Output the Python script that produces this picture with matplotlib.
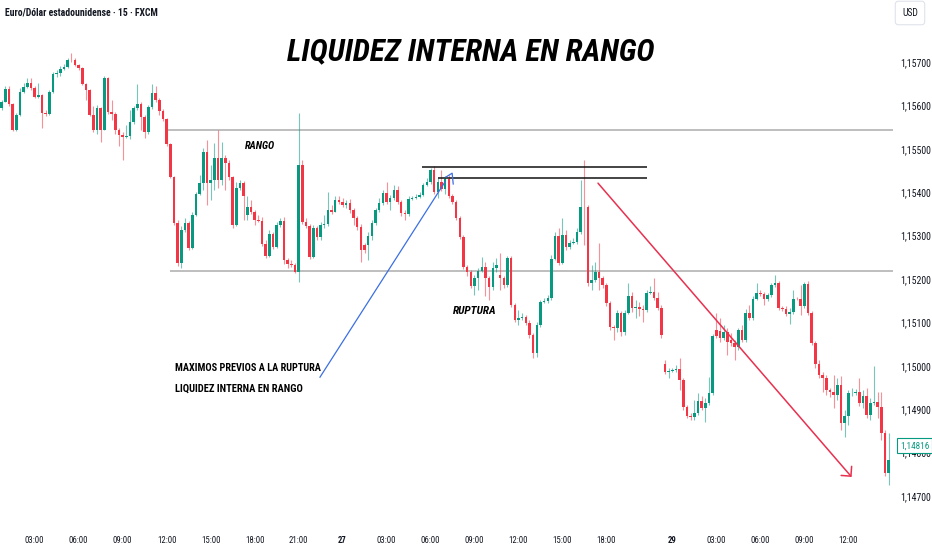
import numpy as np
import matplotlib
matplotlib.use('Agg')
import matplotlib.pyplot as plt
from matplotlib import font_manager as fm

# ---------------- data (EUR/USD, 15-min candles, prices in 1e-5 units) ----------------
opens = [115594,115608,115638,115603,115543,115578,115631,115643,115652,115640,
         115620,115624,115583,115580,115631,115673,115675,115684,115689,115705,
         115704,115693,115686,115649,115636,115578,115543,115594,115543,115663,
         115585,115580,115543,115532,115527,115529,115562,115594,115603,115573,
         115539,115596,115629,115613,115587,115569,115511,115435,115329,115237,
         115313,115329,115272,115348,115396,115421,115493,115421,115428,115479,
         115428,115479,115467,115435,115325,115410,115421,115348,115366,115355,
         115336,115334,115281,115253,115304,115274,115325,115334,115244,115235,
         115232,115216,115463,115332,115322,115251,115318,115297,115325,115327,
         115359,115355,115382,115378,115371,115375,115359,115341,115320,115279,
         115279,115299,115329,115359,115375,115398,115378,115387,115405,115378,
         115352,115350,115385,115387,115389,115394,115417,115424,115451,115401,
         115424,115408,115431,115391,115378,115341,115297,115228,115216,115184,
         115202,115219,115228,115202,115182,115226,115209,115202,115186,115249,
         115140,115106,115110,115113,115099,115071,115030,115094,115147,115149,
         115156,115246,115299,115237,115302,115274,115283,115285,115308,115366,
         115365,115191,115198,115216,115202,115186,115145,115090,115087,115122,
         115078,115122,115161,115133,115136,115131,115129,115168,115170,115156,
         115133,115004,114986,114988,114991,114993,114968,114905,114885,114882,
         114891,114919,114903,114914,114937,115083,115080,115064,115078,115060,
         115053,115044,115083,115060,115122,115110,115154,115168,115166,115154,
         115163,115186,115191,115133,115131,115120,115124,115154,115153,115138,
         115189,115122,115053,115004,114979,114972,114944,114940,114933,114956,
         114868,114885,114937,114938,114940,114914,114931,114887,114914,114917,
         114905,114845,114753]
highs = [115613,115645,115645,115605,115583,115640,115652,115663,115663,115645,
         115652,115626,115590,115636,115677,115682,115691,115696,115709,115721,
         115709,115696,115689,115652,115638,115599,115601,115597,115668,115666,
         115613,115585,115548,115539,115555,115590,115599,115649,115608,115578,
         115601,115649,115645,115617,115592,115571,115513,115437,115336,115322,
         115341,115334,115355,115401,115440,115502,115520,115463,115514,115543,
         115516,115486,115474,115437,115424,115428,115426,115391,115382,115359,
         115348,115343,115290,115313,115308,115332,115341,115343,115249,115244,
         115237,115583,115474,115341,115327,115325,115322,115332,115348,115401,
         115371,115391,115391,115387,115382,115385,115364,115345,115327,115283,
         115308,115336,115364,115387,115405,115424,115394,115417,115414,115382,
         115359,115391,115391,115396,115401,115421,115433,115456,115461,115433,
         115451,115438,115440,115396,115382,115345,115302,115232,115221,115209,
         115226,115251,115239,115207,115239,115249,115260,115207,115253,115253,
         115145,115129,115122,115117,115106,115076,115101,115152,115156,115163,
         115255,115308,115318,115341,115313,115290,115295,115318,115428,115474,
         115371,115232,115239,115283,115207,115191,115149,115094,115129,115126,
         115129,115191,115170,115152,115147,115140,115175,115184,115202,115170,
         115140,115014,114995,114995,115002,115018,114972,114910,114891,114921,
         114938,114931,114926,114974,115074,115122,115110,115094,115087,115076,
         115060,115087,115094,115131,115140,115161,115191,115175,115170,115168,
         115191,115209,115196,115138,115138,115133,115175,115159,115186,115193,
         115196,115126,115057,115014,114986,114979,114949,114979,114972,114977,
         114898,114944,114949,114947,114972,114944,114949,114926,115000,114940,
         114940,114852,114845]
lows = [115590,115610,115599,115541,115541,115576,115629,115641,115636,115617,
        115617,115548,115576,115578,115629,115666,115668,115682,115686,115700,
        115691,115682,115647,115613,115576,115539,115534,115516,115543,115580,
        115567,115534,115507,115474,115525,115523,115557,115590,115543,115525,
        115534,115592,115608,115578,115564,115507,115433,115325,115230,115226,
        115308,115267,115269,115345,115394,115405,115371,115382,115405,115410,
        115417,115405,115428,115318,115322,115405,115336,115336,115350,115325,
        115332,115276,115249,115251,115269,115272,115320,115235,115226,115228,
        115214,115193,115327,115318,115246,115249,115290,115290,115318,115322,
        115350,115355,115373,115366,115364,115352,115325,115313,115239,115260,
        115244,115290,115325,115355,115371,115373,115359,115382,115373,115345,
        115336,115345,115382,115385,115387,115391,115414,115419,115396,115387,
        115403,115396,115387,115373,115336,115292,115223,115207,115179,115163,
        115175,115216,115161,115152,115175,115216,115175,115179,115182,115136,
        115101,115094,115106,115094,115064,115018,115020,115090,115145,115145,
        115152,115244,115232,115235,115267,115269,115281,115281,115304,115279,
        115184,115175,115193,115175,115179,115138,115083,115060,115078,115069,
        115071,115120,115124,115110,115115,115101,115124,115166,115152,115129,
        115064,114981,114972,114986,114986,114945,114898,114880,114875,114875,
        114887,114898,114871,114910,114933,115064,115055,115060,115025,115046,
        115014,115037,115055,115055,115106,115106,115152,115161,115140,115149,
        115159,115182,115129,115126,115115,115097,115120,115152,115117,115133,
        115117,115048,114995,114972,114940,114933,114928,114903,114921,114852,
        114836,114864,114931,114933,114908,114903,114880,114875,114910,114880,
        114829,114746,114726]
closes = [115608,115638,115603,115543,115578,115631,115643,115652,115640,115620,
          115624,115583,115580,115631,115673,115675,115684,115689,115705,115704,
          115693,115686,115649,115636,115578,115543,115594,115543,115663,115585,
          115580,115543,115532,115527,115529,115562,115594,115603,115573,115539,
          115596,115629,115613,115587,115569,115511,115435,115329,115237,115313,
          115329,115272,115348,115396,115421,115493,115421,115428,115479,115428,
          115479,115467,115435,115325,115410,115421,115391,115366,115355,115336,
          115334,115281,115253,115304,115274,115325,115334,115244,115235,115232,
          115216,115463,115332,115322,115251,115318,115297,115325,115327,115359,
          115355,115382,115378,115371,115375,115359,115341,115320,115267,115267,
          115299,115329,115359,115375,115398,115378,115387,115405,115378,115352,
          115350,115385,115387,115389,115394,115417,115424,115451,115401,115424,
          115408,115431,115391,115378,115341,115297,115228,115216,115184,115202,
          115219,115228,115202,115182,115226,115232,115202,115186,115249,115140,
          115106,115110,115113,115099,115071,115030,115094,115147,115149,115156,
          115246,115299,115237,115302,115274,115283,115285,115308,115366,115365,
          115191,115198,115216,115202,115186,115145,115090,115087,115122,115078,
          115122,115161,115133,115136,115131,115129,115168,115170,115156,115133,
          115071,114986,114988,114991,114993,114968,114905,114885,114882,114891,
          114919,114903,114914,114937,115069,115069,115064,115078,115055,115053,
          115044,115083,115060,115122,115110,115154,115168,115166,115154,115163,
          115186,115191,115133,115131,115120,115124,115154,115153,115138,115189,
          115122,115053,115004,114979,114972,114944,114940,114933,114956,114868,
          114885,114937,114938,114940,114914,114931,114887,114914,114917,114905,
          114845,114753,114783]

time_tick_index = [9, 21, 33, 45, 57, 69, 81, 93, 105, 117, 129, 141, 153, 165, 183, 195, 207, 219, 231]
time_tick_labels = ['03:00', '06:00', '09:00', '12:00', '15:00', '18:00', '21:00', '27',
                    '03:00', '06:00', '09:00', '12:00', '15:00', '18:00', '29',
                    '03:00', '06:00', '09:00', '12:00']
price_ticks = [1.147, 1.148, 1.149, 1.150, 1.151, 1.152, 1.153, 1.154, 1.155, 1.156, 1.157]
price_tick_labels = ['1,14700', '1,14800', '1,14900', '1,15000', '1,15100', '1,15200',
                     '1,15300', '1,15400', '1,15500', '1,15600', '1,15700']
last_price = 1.14816
last_price_label = '1,14816'

# drawings (candle index, price)
range_high = 1.15544
range_low = 1.15219
range_start = [45.4, 45.9]
liq_levels = [1.15458, 1.15434]
liq_start = [114.7, 119.0]
liq_end = 176.1
blue_x = [86.85, 120.96]
blue_y = [1.14974, 1.15424]
blue_hook_x = [121.2, 122.9, 123.2]
blue_hook_y = [1.15435, 1.15444, 1.15419]
red_x = [162.7, 231.9]
red_y = [1.15421, 1.14744]

# ---------------- fonts ----------------
names = {f.name for f in fm.fontManager.ttflist}
narrow = None
for cand in ['Liberation Sans Narrow', 'Roboto Condensed', 'Open Sans Condensed', 'Arial Narrow']:
    if cand in names:
        narrow = cand
        break
if narrow is None:
    NK = dict(family='DejaVu Sans', fontstretch='condensed')
else:
    NK = dict(family=narrow)

O = np.array(opens) / 1e5
H = np.array(highs) / 1e5
L = np.array(lows) / 1e5
C = np.array(closes) / 1e5
x = np.arange(len(C))

W, Hh = 932, 550
fig = plt.figure(figsize=(W / 100, Hh / 100), dpi=100)
fig.patch.set_facecolor('white')
ax = fig.add_axes([0, 35 / Hh, 893 / W, 515 / Hh])
ax.set_facecolor('white')
for s in ax.spines.values():
    s.set_visible(False)

GREEN = '#089981'
RED = '#f23645'
up = C >= O
cols = np.where(up, GREEN, RED)
ax.vlines(x, np.minimum(L, np.minimum(O, C)), np.maximum(H, np.maximum(O, C)),
          colors=cols, lw=0.8, alpha=0.55, zorder=2)
bottom = np.minimum(O, C)
height = np.maximum(np.abs(C - O), 0.000012)
ax.bar(x, height, bottom=bottom, width=0.7, color=cols, linewidth=0, zorder=3)

xmin, xmax = -0.46, 243.19
ax.set_xlim(xmin, xmax)
ax.set_ylim(1.146564, 1.15843)

# range lines
ax.hlines([range_high, range_low], range_start, [xmax, xmax], colors='#b3b3b3', lw=1.2, zorder=1)
# liquidity lines
ax.hlines(liq_levels, liq_start, [liq_end, liq_end], colors='#111111', lw=1.1, zorder=4)
# blue line + hook
ax.plot(blue_x, blue_y, color='#3b6fe3', lw=0.9, zorder=5)
ax.plot(blue_hook_x, blue_hook_y, color='#3b6fe3', lw=0.9, zorder=5)
# red arrow
ax.annotate('', xy=(red_x[1], red_y[1]), xytext=(red_x[0], red_y[0]),
            arrowprops=dict(arrowstyle='->,head_length=0.5,head_width=0.5', color='#e8304f',
                            lw=1.1, shrinkA=0, shrinkB=0), zorder=5)

renderer = fig.canvas.get_renderer()

def fit_size(s, width_px, **kw):
    t = fig.text(0, 0, s, fontsize=10, **kw)
    w = t.get_window_extent(renderer).width
    t.remove()
    return 10 * width_px / w

# axes ticks
ysz = fit_size('1,15700', 31, **NK)
ax.yaxis.tick_right()
ax.set_yticks(price_ticks)
ax.set_yticklabels(price_tick_labels, fontsize=ysz, color='#131722', **NK)
ax.tick_params(axis='y', length=0, pad=5)

xsz = fit_size('03:00', 19, **NK)
ax.set_xticks(time_tick_index)
ax.set_xticklabels(time_tick_labels, fontsize=xsz, color='#131722', **NK)
for lab in ax.get_xticklabels():
    if lab.get_text() in ('27', '29'):
        lab.set_fontweight('bold')
ax.tick_params(axis='x', length=0, pad=15)

def fx(px):
    return px / W

def fy(py):
    return 1 - py / Hh

def put(px, py, s, width_px, ha='left', **kw):
    sz = fit_size(s, width_px, **kw)
    return fig.text(fx(px), fy(py), s, fontsize=sz, ha=ha, va='center', **kw)

put(5, 12, 'Euro/Dólar estadounidense · 15 · FXCM', 153, color='#131722', weight='bold', **NK)
put(471, 52, 'LIQUIDEZ INTERNA EN RANGO', 367, ha='center', color='black', weight='bold', style='italic', **NK)
put(245, 146, 'RANGO', 30, color='black', weight='bold', style='italic', **NK)
put(453, 311, 'RUPTURA', 44, color='black', weight='bold', style='italic', **NK)
put(175, 368, 'MAXIMOS PREVIOS A LA RUPTURA', 145, color='black', weight='bold', **NK)
put(175, 389, 'LIQUIDEZ INTERNA EN RANGO', 128, color='black', weight='bold', **NK)

usz = fit_size('USD', 16, **NK)
fig.text(fx(910), fy(13), 'USD', fontsize=usz, ha='center', va='center', color='#131722',
         bbox=dict(boxstyle='round,pad=0.7,rounding_size=0.3', fc='white', ec='#e0e3eb', lw=0.8), **NK)

lsz = fit_size(last_price_label, 29, **NK)
ax.annotate(last_price_label, xy=(1.0, last_price), xycoords=('axes fraction', 'data'),
            xytext=(914.5 - 893, 0), textcoords='offset pixels', ha='center', va='center',
            fontsize=lsz, color=GREEN, annotation_clip=False, zorder=10,
            bbox=dict(boxstyle='square,pad=0.3', fc='white', ec=GREEN, lw=0.8), **NK)

fig.savefig('out.png', dpi=100, facecolor='white')
